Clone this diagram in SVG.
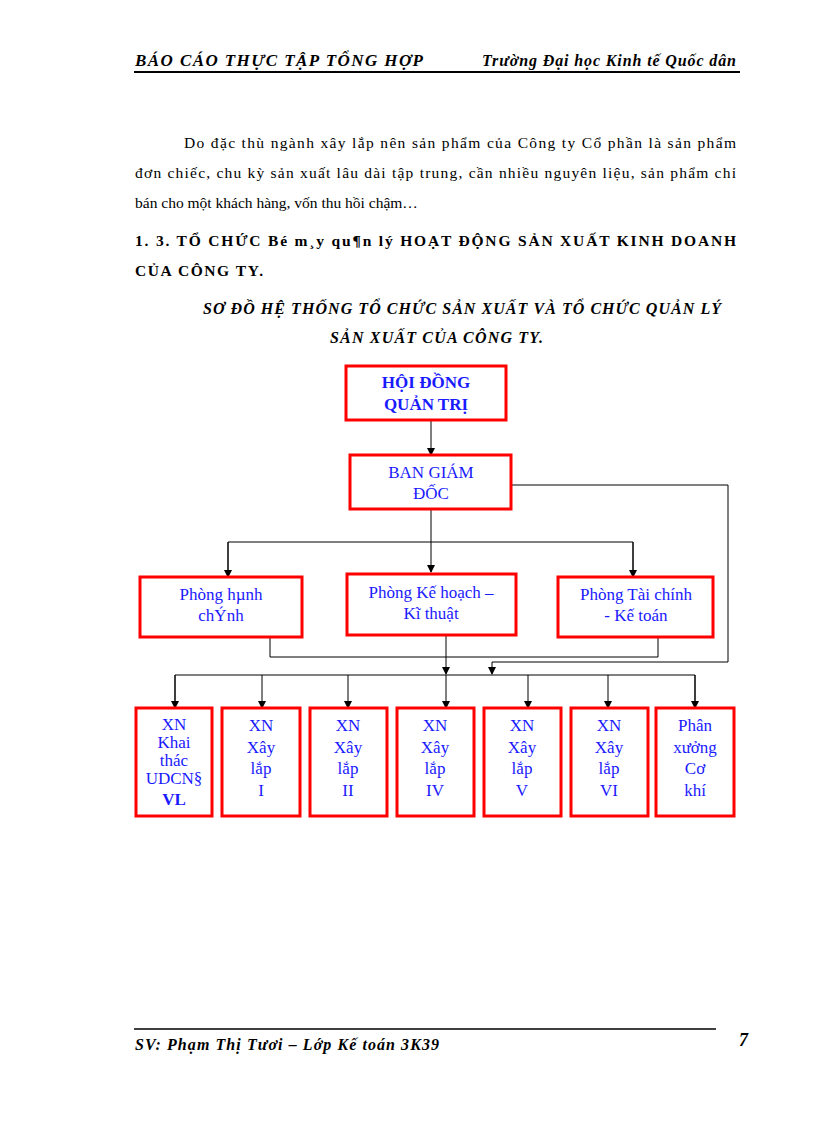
<svg xmlns="http://www.w3.org/2000/svg" width="816" height="1123" viewBox="0 0 816 1123">
<style>
text{font-family:"Liberation Serif","DejaVu Serif",serif;fill:#000}
.box{fill:#fff;stroke:#ff0000;stroke-width:3}
.n{fill:#1a1aff;font-size:17px;text-anchor:middle}
.b{font-weight:bold}
.c{fill:none;stroke:#000;stroke-width:1}
.p{font-size:15.5px}
</style>
<defs>
<marker id="d" markerWidth="8" markerHeight="8" refX="7" refY="4" orient="auto" markerUnits="userSpaceOnUse"><path d="M0,0 L8,4 L0,8 Z" fill="#000"/></marker></defs>
<text x="135" y="66" font-size="17" font-weight="bold" font-style="italic" textLength="288">BÁO CÁO THỰC TẬP TỔNG HỢP</text>
<text x="482" y="66" font-size="16" font-style="italic" font-weight="bold" textLength="254">Trường Đại học Kinh tế Quốc dân</text>
<line x1="134" y1="72" x2="740" y2="72" stroke="#000" stroke-width="2"/>
<text class="p" x="184" y="148" textLength="552">Do đặc thù ngành xây lắp nên sản phẩm của Công ty Cổ phần là sản phẩm</text>
<text class="p" x="135" y="178" textLength="601">đơn chiếc, chu kỳ sản xuất lâu dài tập trung, cần nhiều nguyên liệu, sản phẩm chỉ</text>
<text class="p" x="135" y="208">bán cho một khách hàng, vốn thu hồi chậm…</text>
<text class="p" x="135" y="246" font-weight="bold" textLength="601">1. 3. TỔ CHỨC Bé m¸y qu¶n lý HOẠT ĐỘNG SẢN XUẤT KINH DOANH</text>
<text class="p" x="135" y="276" font-weight="bold" textLength="128">CỦA CÔNG TY.</text>
<text x="203" y="314" font-size="16" font-weight="bold" font-style="italic" textLength="518">SƠ ĐỒ HỆ THỐNG TỔ CHỨC SẢN XUẤT VÀ TỔ CHỨC QUẢN LÝ</text>
<text x="330" y="343" font-size="16" font-weight="bold" font-style="italic" textLength="213">SẢN XUẤT CỦA CÔNG TY.</text>
<g id="connectors">
<path class="c" d="M431,420 V455" marker-end="url(#d)"/>
<path class="c" d="M431,509 V572" marker-end="url(#d)"/>
<path class="c" d="M228,577 V542 H633 V577" />
<path class="c" d="M228,542 V577" marker-end="url(#d)"/>
<path class="c" d="M633,542 V577" marker-end="url(#d)"/>
<path class="c" d="M511,485 H728 V662 H492 V674" marker-end="url(#d)"/>
<path class="c" d="M270,637 V657 H658 V637"/>
<path class="c" d="M446,635 V674" marker-end="url(#d)"/>
<path class="c" d="M175,708 V675 H695 V708"/>
<path class="c" d="M175,675 V708" marker-end="url(#d)"/>
<path class="c" d="M262,675 V708" marker-end="url(#d)"/>
<path class="c" d="M348,675 V708" marker-end="url(#d)"/>
<path class="c" d="M446,675 V708" marker-end="url(#d)"/>
<path class="c" d="M528,675 V708" marker-end="url(#d)"/>
<path class="c" d="M608,675 V708" marker-end="url(#d)"/>
<path class="c" d="M695,675 V708" marker-end="url(#d)"/>
</g>
<g id="hdqt"><rect class="box" x="346" y="366" width="160" height="54"/><text class="n b" x="426" y="388">HỘI ĐỒNG</text><text class="n b" x="426" y="410">QUẢN TRỊ</text></g>
<g id="bgd"><rect class="box" x="350" y="455" width="161" height="54"/><text class="n" x="431" y="478">BAN GIÁM</text><text class="n" x="431" y="499">ĐỐC</text></g>
<g id="phc"><rect class="box" x="140" y="577" width="162" height="60"/><text class="n" x="221" y="600">Phòng hµnh</text><text class="n" x="221" y="621">chÝnh</text></g>
<g id="pkh"><rect class="box" x="347" y="574" width="169" height="61"/><text class="n" x="431" y="598">Phòng Kế hoạch –</text><text class="n" x="431" y="619">Kĩ thuật</text></g>
<g id="ptc"><rect class="box" x="558" y="577" width="155" height="60"/><text class="n" x="636" y="600">Phòng Tài chính</text><text class="n" x="636" y="621">- Kế toán</text></g>
<g id="xn1"><rect class="box" x="136" y="708" width="76" height="108"/><text class="n" x="174" y="730" font-size="15">XN</text><text class="n" x="174" y="748" font-size="15">Khai</text><text class="n" x="174" y="766" font-size="15">thác</text><text class="n" x="174" y="784" font-size="15">UDCN§</text><text class="n b" x="174" y="805">VL</text></g>
<g id="xn2"><rect class="box" x="222" y="708" width="78" height="108"/><text class="n" x="261" y="731">XN</text><text class="n" x="261" y="753">Xây</text><text class="n" x="261" y="774">lắp</text><text class="n" x="261" y="796">I</text></g>
<g id="xn3"><rect class="box" x="310" y="708" width="77" height="108"/><text class="n" x="348" y="731">XN</text><text class="n" x="348" y="753">Xây</text><text class="n" x="348" y="774">lắp</text><text class="n" x="348" y="796">II</text></g>
<g id="xn4"><rect class="box" x="397" y="708" width="77" height="108"/><text class="n" x="435" y="731">XN</text><text class="n" x="435" y="753">Xây</text><text class="n" x="435" y="774">lắp</text><text class="n" x="435" y="796">IV</text></g>
<g id="xn5"><rect class="box" x="484" y="708" width="77" height="108"/><text class="n" x="522" y="731">XN</text><text class="n" x="522" y="753">Xây</text><text class="n" x="522" y="774">lắp</text><text class="n" x="522" y="796">V</text></g>
<g id="xn6"><rect class="box" x="571" y="708" width="77" height="108"/><text class="n" x="609" y="731">XN</text><text class="n" x="609" y="753">Xây</text><text class="n" x="609" y="774">lắp</text><text class="n" x="609" y="796">VI</text></g>
<g id="px"><rect class="box" x="656" y="708" width="78" height="108"/><text class="n" x="695" y="731">Phân</text><text class="n" x="695" y="753">xưởng</text><text class="n" x="695" y="774">Cơ</text><text class="n" x="695" y="796">khí</text></g>
<line x1="134" y1="1029" x2="716" y2="1029" stroke="#000" stroke-width="1.5"/>
<text x="135" y="1050" font-size="16" font-style="italic" font-weight="bold" textLength="304">SV: Phạm Thị Tươi  – Lớp Kế toán 3K39</text>
<text x="748" y="1046" font-size="18" font-style="italic" font-weight="bold" text-anchor="end">7</text>
</svg>
